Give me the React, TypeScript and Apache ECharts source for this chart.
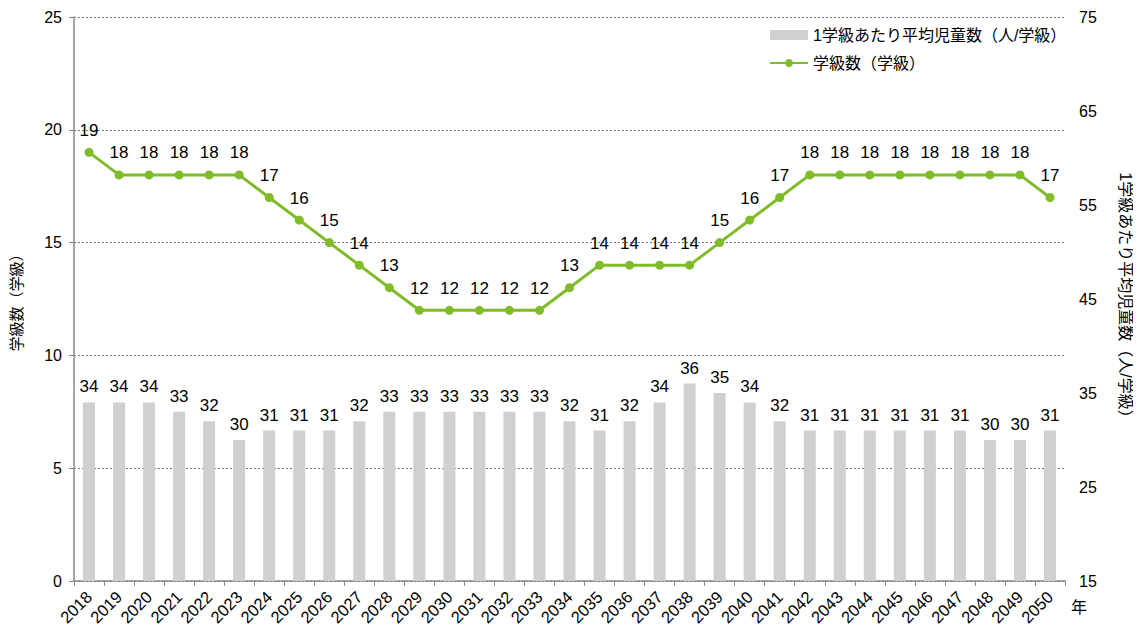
import React, { useEffect, useRef } from "react";
import * as echarts from "echarts";

const years = ["2018","2019","2020","2021","2022","2023","2024","2025","2026","2027","2028","2029","2030","2031","2032","2033","2034","2035","2036","2037","2038","2039","2040","2041","2042","2043","2044","2045","2046","2047","2048","2049","2050"];
const studentsPerClass = [34,34,34,33,32,30,31,31,31,32,33,33,33,33,33,33,32,31,32,34,36,35,34,32,31,31,31,31,31,31,30,30,31];
const classCount = [19,18,18,18,18,18,17,16,15,14,13,12,12,12,12,12,13,14,14,14,14,15,16,17,18,18,18,18,18,18,18,18,17];
const barName = "1学級あたり平均児童数（人/学級）";
const lineName = "学級数（学級）";

const FONT = "'Liberation Sans', Arial, 'Noto Sans CJK JP', sans-serif";

export default function App() {
  const ref = useRef<HTMLDivElement>(null);
  useEffect(() => {
    const chart = echarts.init(ref.current!, null, { renderer: "svg" });
    chart.setOption({
      animation: false,
      textStyle: { fontFamily: FONT },
      grid: { left: 74, right: 70, top: 17, bottom: 53 },
      legend: {
        orient: "vertical",
        left: 764,
        top: 22,
        itemWidth: 38,
        itemHeight: 10,
        itemGap: 12,
        textStyle: { fontSize: 16, color: "#000", fontFamily: FONT },
        data: [
          { name: barName, icon: "rect" },
          { name: lineName },
        ],
      },
      xAxis: {
        type: "category",
        data: years,
        name: "年",
        nameLocation: "end",
        nameGap: 6,
        nameTextStyle: { fontSize: 16, color: "#000", verticalAlign: "top", padding: [18, 0, 0, 0] },
        axisLine: { lineStyle: { color: "#888", width: 1.5 } },
        axisTick: { show: true, length: 5, lineStyle: { color: "#888" } },
        axisLabel: { rotate: 45, fontSize: 16.5, color: "#000", interval: 0, margin: 13 },
      },
      yAxis: [
        {
          type: "value",
          min: 0,
          max: 25,
          interval: 5,
          name: lineName,
          nameLocation: "middle",
          nameGap: 50,
          nameRotate: 90,
          nameTextStyle: { fontSize: 15, color: "#000" },
          axisLine: { show: true, lineStyle: { color: "#888", width: 1.5 } },
          axisTick: { show: true, length: 5, lineStyle: { color: "#888" } },
          axisLabel: { fontSize: 16, color: "#000", margin: 12 },
          splitLine: { show: true, lineStyle: { color: "#777", type: [2, 2], width: 1 } },
        },
        {
          type: "value",
          min: 15,
          max: 75,
          interval: 10,
          name: barName,
          nameLocation: "middle",
          nameGap: 52,
          nameRotate: -90,
          nameTextStyle: { fontSize: 16, color: "#000" },
          axisLine: { show: false },
          axisTick: { show: false },
          axisLabel: { fontSize: 16, color: "#000", margin: 14 },
          splitLine: { show: false },
        },
      ],
      series: [
        {
          name: barName,
          type: "bar",
          yAxisIndex: 1,
          data: studentsPerClass,
          barWidth: 12,
          itemStyle: { color: "#D0D0D0" },
          label: { show: true, position: "top", distance: 7, fontSize: 17, color: "#000" },
        },
        {
          name: lineName,
          type: "line",
          yAxisIndex: 0,
          data: classCount,
          symbol: "circle",
          symbolSize: 9,
          lineStyle: { color: "#80BC2A", width: 3 },
          itemStyle: { color: "#80BC2A" },
          label: { show: true, position: "top", distance: 9, fontSize: 17, color: "#000" },
          z: 3,
        },
      ],
    });
    return () => chart.dispose();
  }, []);
  return <div ref={ref} style={{ width: 1141, height: 634, margin: -8 }} />;
}
